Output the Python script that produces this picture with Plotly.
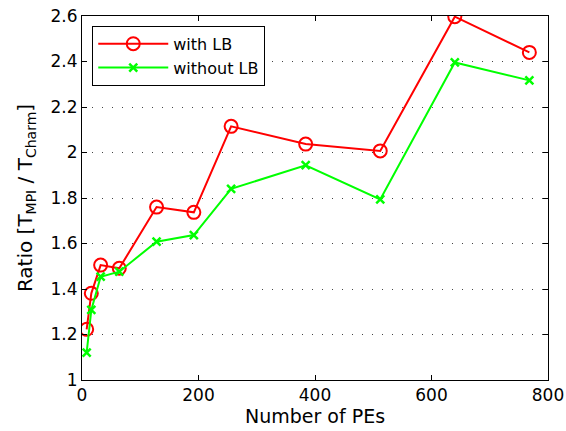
import plotly.graph_objects as go

# Number of processing elements
pes = [8, 16, 32, 64, 128, 192, 256, 384, 512, 640, 768]

# Ratio T_MPI / T_Charm
with_lb = [1.223, 1.381, 1.505, 1.491, 1.76, 1.737, 2.115, 2.037, 2.007, 2.597, 2.44]
without_lb = [1.12, 1.308, 1.454, 1.476, 1.608, 1.637, 1.84, 1.944, 1.794, 2.396, 2.317]

x_ticks = [0, 200, 400, 600, 800]
y_ticks = [1, 1.2, 1.4, 1.6, 1.8, 2, 2.2, 2.4, 2.6]

font_family = "DejaVu Sans, Liberation Sans, Arial, sans-serif"

fig = go.Figure()
fig.add_trace(go.Scatter(
    x=pes, y=with_lb, mode="lines+markers", name="with LB",
    line=dict(color="#ff0000", width=2),
    marker=dict(symbol="circle-open", size=13, color="#ff0000", line=dict(width=2)),
))
fig.add_trace(go.Scatter(
    x=pes, y=without_lb, mode="lines+markers", name="without LB",
    line=dict(color="#00ff00", width=2),
    marker=dict(symbol="x-thin-open", size=8, color="#00ff00", line=dict(width=2.5, color="#00ff00")),
))

axis_common = dict(
    showline=True, linecolor="black", linewidth=1, mirror="ticks",
    ticks="inside", ticklen=5, tickcolor="black",
    tickfont=dict(size=17, color="black", family=font_family),
    zeroline=False, automargin=False,
)

fig.update_layout(
    width=566, height=431,
    margin=dict(l=82, r=18, t=16, b=51),
    paper_bgcolor="white", plot_bgcolor="white",
    font=dict(family=font_family, color="black"),
    showlegend=True,
    legend=dict(
        x=0.022, y=0.973, xanchor="left", yanchor="top",
        bordercolor="black", borderwidth=1, bgcolor="white",
        font=dict(size=16, family=font_family, color="black"),
        tracegroupgap=0, itemwidth=70,
    ),
    xaxis=dict(
        range=[0, 800], tickvals=x_ticks, showgrid=False,
        title=dict(text="Number of PEs", font=dict(size=19), standoff=4),
        **axis_common,
    ),
    yaxis=dict(
        range=[1, 2.6], tickvals=y_ticks, showgrid=True,
        gridcolor="#444444", griddash="1px,9px", gridwidth=1,
        title=dict(text="Ratio [T<sub>MPI</sub> / T<sub>Charm</sub>]", font=dict(size=20), standoff=12),
        **axis_common,
    ),
)

fig.write_html("out.html")
